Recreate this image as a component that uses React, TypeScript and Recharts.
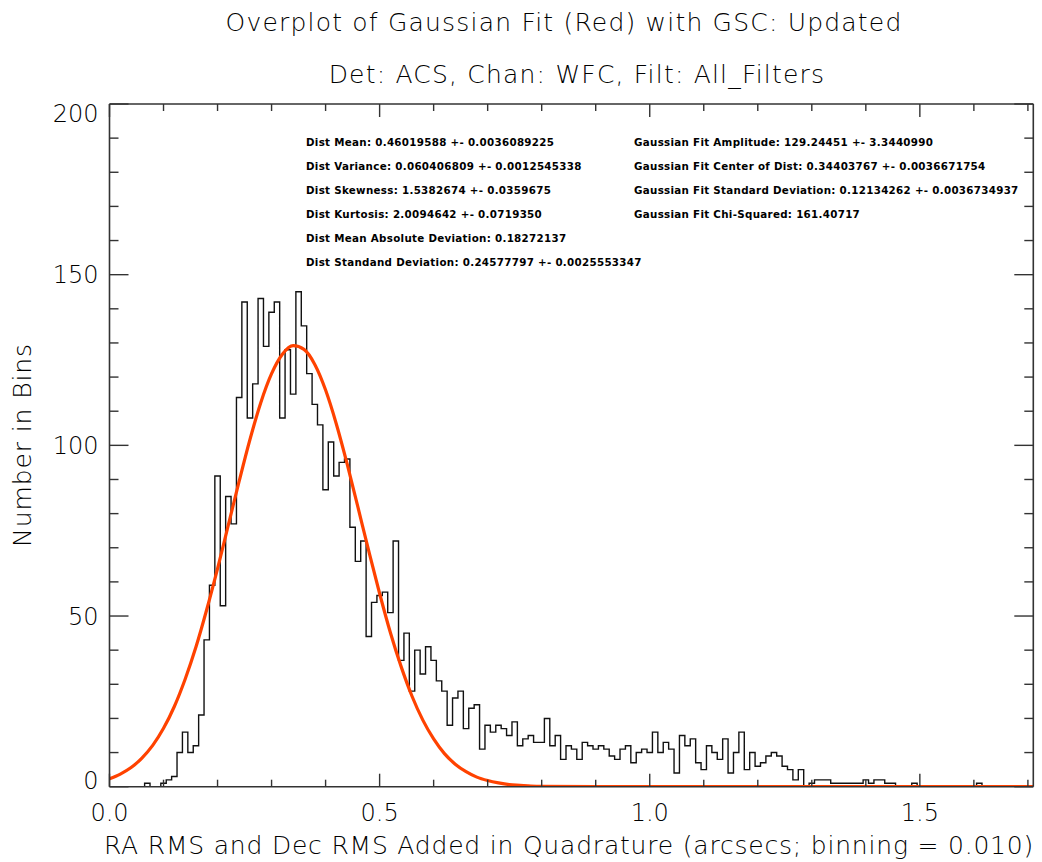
import React from 'react'
import { LineChart, Line, XAxis, YAxis } from 'recharts'

// histogram bins, 0.010 wide, centred on 0.00, 0.01, ... 1.70
const binWidth = 0.01
const counts = [
  0, 0, 0, 0, 0, 0, 0, 1, 0, 0,
  1, 2, 3, 10, 16, 10, 12, 21, 43, 59,
  91, 53, 85, 77, 114, 142, 108, 118, 143, 129,
  139, 142, 108, 128, 115, 145, 135, 121, 112, 106,
  87, 101, 91, 95, 96, 76, 66, 72, 44, 54,
  56, 57, 51, 72, 37, 45, 28, 40, 33, 41,
  37, 31, 28, 18, 26, 28, 17, 23, 24, 11,
  18, 16, 18, 17, 15, 19, 12, 14, 15, 13,
  13, 20, 12, 15, 8, 12, 11, 8, 13, 12,
  11, 12, 11, 9, 8, 11, 12, 7, 10, 11,
  10, 16, 10, 13, 11, 4, 15, 12, 14, 7,
  5, 12, 10, 8, 14, 4, 10, 16, 5, 10,
  6, 7, 9, 10, 9, 6, 5, 2, 5, 0,
  1, 2, 2, 2, 1, 1, 1, 1, 1, 1,
  2, 1, 2, 2, 1, 1, 0, 0, 0, 1,
  0, 0, 0, 0, 0, 0, 0, 0, 0, 0,
  0, 1, 0, 0, 0, 0, 0, 0, 0, 0,
  0,
]

// red gaussian fit curve
const fitX = [
  0, 0.02, 0.04, 0.06, 0.08, 0.1, 0.12, 0.14, 0.16, 0.18,
  0.2, 0.22, 0.24, 0.26, 0.28, 0.3, 0.32, 0.34, 0.36, 0.38,
  0.4, 0.42, 0.44, 0.46, 0.48, 0.5, 0.52, 0.54, 0.56, 0.58,
  0.6, 0.62, 0.64, 0.66, 0.68, 0.7, 0.72, 0.74, 0.76, 0.78,
  0.8, 0.9, 1.0, 1.2, 1.4, 1.6, 1.71,
]
const fitY = [
  2.3, 3.7, 5.6, 8.4, 12.1, 17.1, 23.5, 31.5, 40.9, 51.9,
  63.9, 76.7, 89.5, 101.7, 112.5, 121.0, 126.7, 129.2, 128.1, 123.7,
  116.2, 106.2, 94.5, 81.8, 69.0, 56.6, 45.1, 35.1, 26.5, 19.5,
  14.0, 9.7, 6.6, 4.4, 2.8, 1.8, 1.1, 0.6, 0.4, 0.2,
  0.1, 0, 0, 0, 0, 0, 0,
]

const xTicks = [0, 0.1, 0.2, 0.3, 0.4, 0.5, 0.6, 0.7, 0.8, 0.9, 1.0, 1.1, 1.2, 1.3, 1.4, 1.5, 1.6, 1.7]
const yTicks = [0, 10, 20, 30, 40, 50, 60, 70, 80, 90, 100, 110, 120, 130, 140, 150, 160, 170, 180, 190, 200]

const distStats = [
  'Dist Mean: 0.46019588 +- 0.0036089225',
  'Dist Variance: 0.060406809 +- 0.0012545338',
  'Dist Skewness: 1.5382674 +- 0.0359675',
  'Dist Kurtosis: 2.0094642 +- 0.0719350',
  'Dist Mean Absolute Deviation: 0.18272137',
  'Dist Standand Deviation: 0.24577797 +- 0.0025553347',
]
const fitStats = [
  'Gaussian Fit Amplitude: 129.24451 +- 3.3440990',
  'Gaussian Fit Center of Dist: 0.34403767 +- 0.0036671754',
  'Gaussian Fit Standard Deviation: 0.12134262 +- 0.0036734937',
  'Gaussian Fit Chi-Squared: 161.40717',
]

const histData = counts.map((n, i) => ({ x: Math.round(i * binWidth * 100) / 100, n }))
const fitData = fitX.map((x, i) => ({ x, y: fitY[i] }))

const W = 1042
const H = 862
const FONT = '"DejaVu Sans", Verdana, sans-serif'
const AXIS = '#333'
const axisLine = { stroke: AXIS, strokeWidth: 1.6 }

const isMajorX = (v: number) => Math.abs(v * 2 - Math.round(v * 2)) < 1e-6
const isMajorY = (v: number) => v % 50 === 0

function BottomTick(props: any) {
  const { x, y, payload } = props
  const v = payload.value
  const major = isMajorX(v)
  return (
    <g>
      <line x1={x} y1={y} x2={x} y2={y - (major ? 13 : 7)} stroke={AXIS} strokeWidth={1.4} />
      {major && (
        <text x={x} y={y + 34} textAnchor="middle" fontSize={24} fontFamily={FONT} fontWeight={300} fill="#000">
          {v.toFixed(1)}
        </text>
      )}
    </g>
  )
}

function TopTick(props: any) {
  const { x, y, payload } = props
  const major = isMajorX(payload.value)
  return <line x1={x} y1={y} x2={x} y2={y + (major ? 13 : 7)} stroke={AXIS} strokeWidth={1.4} />
}

function LeftTick(props: any) {
  const { x, y, payload } = props
  const v = payload.value
  const major = isMajorY(v)
  // end labels are nudged inside the frame like the original
  const dy = v === 200 ? 18 : v === 0 ? 2 : 8.7
  return (
    <g>
      <line x1={x} y1={y} x2={x + (major ? 19 : 9)} y2={y} stroke={AXIS} strokeWidth={1.4} />
      {major && (
        <text x={x - 11} y={y + dy} textAnchor="end" fontSize={24} fontFamily={FONT} fontWeight={300} fill="#000">
          {v}
        </text>
      )}
    </g>
  )
}

function RightTick(props: any) {
  const { x, y, payload } = props
  const major = isMajorY(payload.value)
  return <line x1={x} y1={y} x2={x - (major ? 19 : 9)} y2={y} stroke={AXIS} strokeWidth={1.4} />
}

export default function App() {
  return (
    <div style={{ position: 'relative', width: W, height: H, background: 'white' }}>
      <style>{'body{margin:0}'}</style>
      <LineChart width={W} height={H} margin={{ top: 0, right: 0, bottom: 0, left: 0 }}>
        <XAxis
          xAxisId="b"
          type="number"
          dataKey="x"
          domain={[0, 1.71]}
          ticks={xTicks}
          interval={0}
          allowDataOverflow
          height={75.3}
          tickSize={0}
          tickMargin={0}
          tickLine={false}
          axisLine={axisLine}
          tick={BottomTick}
        />
        <XAxis
          xAxisId="t"
          orientation="top"
          type="number"
          dataKey="x"
          domain={[0, 1.71]}
          ticks={xTicks}
          interval={0}
          allowDataOverflow
          height={104}
          tickSize={0}
          tickMargin={0}
          tickLine={false}
          axisLine={axisLine}
          tick={TopTick}
        />
        <YAxis
          yAxisId="l"
          type="number"
          domain={[0, 200]}
          ticks={yTicks}
          interval={0}
          allowDataOverflow
          width={109.5}
          tickSize={0}
          tickMargin={0}
          tickLine={false}
          axisLine={axisLine}
          tick={LeftTick}
        />
        <YAxis
          yAxisId="r"
          orientation="right"
          type="number"
          domain={[0, 200]}
          ticks={yTicks}
          interval={0}
          allowDataOverflow
          width={8.7}
          tickSize={0}
          tickMargin={0}
          tickLine={false}
          axisLine={axisLine}
          tick={RightTick}
        />
        <Line
          xAxisId="b"
          yAxisId="l"
          data={histData}
          dataKey="n"
          type="step"
          stroke="#111"
          strokeWidth={1.4}
          dot={false}
          activeDot={false}
          isAnimationActive={false}
        />
        <Line
          xAxisId="b"
          yAxisId="l"
          data={fitData}
          dataKey="y"
          type="monotone"
          stroke="#ff4200"
          strokeWidth={3.2}
          dot={false}
          activeDot={false}
          isAnimationActive={false}
        />
      </LineChart>

      <svg width={W} height={H} style={{ position: 'absolute', left: 0, top: 0, pointerEvents: 'none' }}>
        <g fontFamily={FONT} fill="#000" fontWeight={300}>
          <text x={564} y={31} textAnchor="middle" fontSize={25} style={{ letterSpacing: 1.2 }}>
            Overplot of Gaussian Fit (Red) with GSC: Updated
          </text>
          <text x={577} y={83} textAnchor="middle" fontSize={25} style={{ letterSpacing: 1.2 }}>
            Det: ACS, Chan: WFC, Filt: All_Filters
          </text>
          <text x={569} y={854} textAnchor="middle" fontSize={25} style={{ letterSpacing: 0.8 }}>
            RA RMS and Dec RMS Added in Quadrature (arcsecs; binning = 0.010)
          </text>
          <text
            x={0}
            y={0}
            transform="translate(31 445) rotate(-90)"
            textAnchor="middle"
            fontSize={25}
            style={{ letterSpacing: 0.9 }}
          >
            Number in Bins
          </text>
        </g>
        <g fontFamily={FONT} fill="#000" fontWeight={700} fontSize={10.3} style={{ letterSpacing: 0.3 }}>
          {distStats.map((s, i) => (
            <text key={s} x={306} y={145.7 + i * 24}>{s}</text>
          ))}
          {fitStats.map((s, i) => (
            <text key={s} x={634} y={145.7 + i * 24}>{s}</text>
          ))}
        </g>
      </svg>
    </div>
  )
}
